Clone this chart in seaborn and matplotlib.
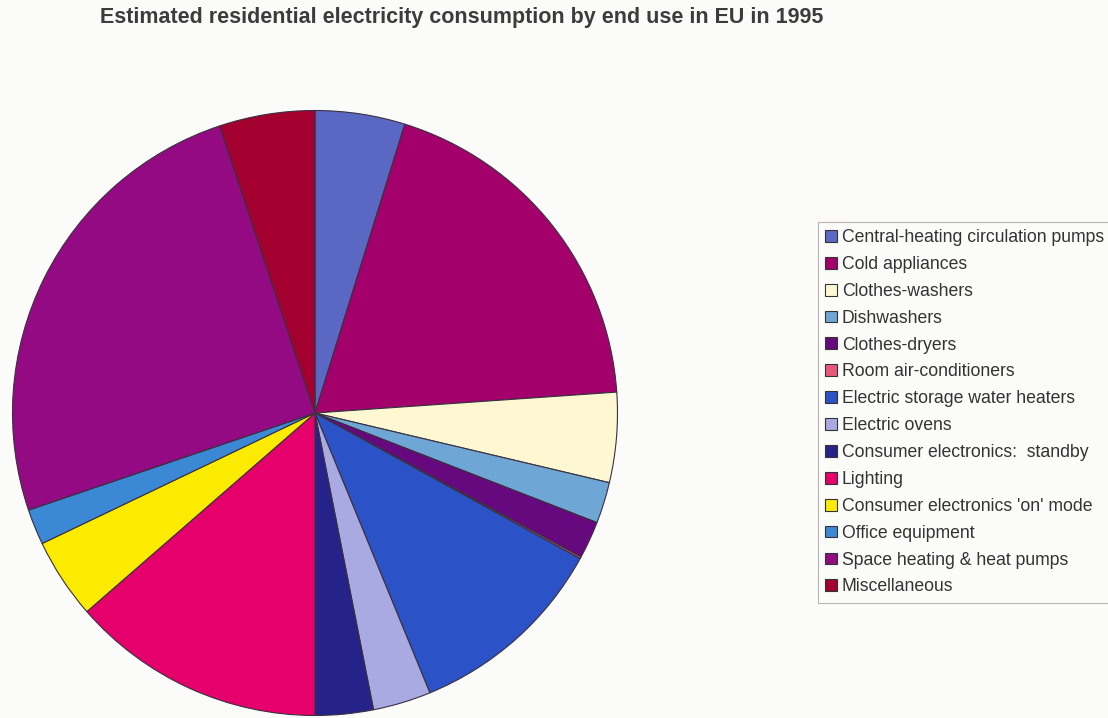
import matplotlib
matplotlib.use("Agg")
import matplotlib.pyplot as plt
from matplotlib.patches import Patch
import seaborn as sns

# Share of residential electricity use (%), EU, 1995
end_uses = [
    "Central-heating circulation pumps",
    "Cold appliances",
    "Clothes-washers",
    "Dishwashers",
    "Clothes-dryers",
    "Room air-conditioners",
    "Electric storage water heaters",
    "Electric ovens",
    "Consumer electronics:  standby",
    "Lighting",
    "Consumer electronics 'on' mode",
    "Office equipment",
    "Space heating & heat pumps",
    "Miscellaneous",
]
shares = [4.8, 19.1, 4.8, 2.2, 2.0, 0.1, 10.8, 3.1, 3.1, 13.6, 4.3, 1.9, 25.1, 5.1]
colors = [
    "#5a68c4", "#a3006c", "#fdf8d2", "#6ea6d6", "#66097e", "#e8587a",
    "#2b52c6", "#a9aae2", "#25238a", "#e6006c", "#fbeb00", "#3b88d4",
    "#930a82", "#a3002f",
]
title = "Estimated residential electricity consumption by end use in EU in 1995"

sns.set_theme(style="white")
plt.rcParams["font.family"] = ["Liberation Sans", "DejaVu Sans"]

bg = "#fbfbf9"
fig = plt.figure(figsize=(11.08, 7.18), dpi=100, facecolor=bg)

ax = fig.add_axes([11 / 1108, 1 / 718, 608 / 1108, 608 / 718])
ax.set_facecolor(bg)
ax.pie(
    shares,
    colors=colors,
    startangle=90,
    counterclock=False,
    radius=1.0,
    wedgeprops=dict(edgecolor="#3a3040", linewidth=0.8),
)
ax.set_xlim(-1.005, 1.005)
ax.set_ylim(-1.005, 1.005)
ax.set_aspect("equal")
ax.axis("off")

fig.text(100 / 1108, 1 - 18 / 718, title, ha="left", va="center",
         fontsize=15.5, fontweight="bold", color="#3c3c3c")

handles = [Patch(facecolor=c, edgecolor="#333333", linewidth=0.8) for c in colors]
leg = fig.legend(
    handles, end_uses,
    loc="upper left",
    bbox_to_anchor=(818 / 1108, 1 - 222 / 718),
    frameon=True,
    fancybox=False,
    fontsize=12.7,
    handlelength=0.65,
    handleheight=0.65,
    handletextpad=0.3,
    labelspacing=0.56,
    borderpad=0.4,
    borderaxespad=0.0,
    labelcolor="#333333",
)
frame = leg.get_frame()
frame.set_edgecolor("#b0a0a0")
frame.set_linewidth(0.8)
frame.set_facecolor(bg)

fig.savefig("out.png", dpi=100, facecolor=bg)
